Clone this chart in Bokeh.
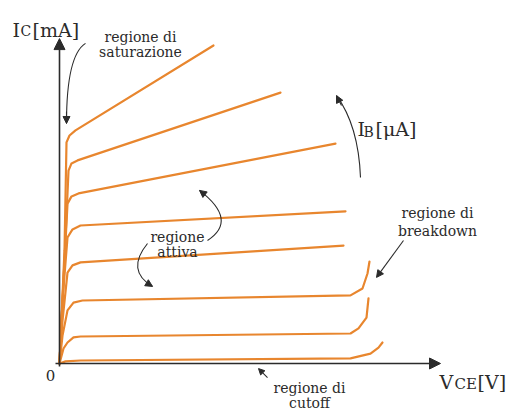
from bokeh.plotting import figure
from bokeh.models import Range1d, Arrow, NormalHead
from bokeh.embed import file_html
from bokeh.resources import INLINE
from bokeh.core.properties import value

# BJT output characteristics: V_CE [V] vs I_C [mA] (top curve first)
vce_1 = [0, 0.25, 0.35, 0.5, 0.8, 7.7]
ic_1 = [0, 3.77, 7.37, 7.6, 7.77, 10.6]

vce_2 = [0, 0.25, 0.45, 0.6, 0.9, 11.05]
ic_2 = [0, 3.43, 6.43, 6.67, 6.77, 9.03]

vce_3 = [0, 0.2, 0.4, 0.6, 0.95, 13.8]
ic_3 = [0, 2.77, 5.33, 5.57, 5.67, 7.33]

vce_4 = [0, 0.15, 0.4, 0.65, 1.05, 14.3]
ic_4 = [0, 2.1, 4.2, 4.47, 4.6, 5.07]

vce_5 = [0, 0.15, 0.4, 0.65, 1.05, 14.2]
ic_5 = [0, 1.43, 3.03, 3.27, 3.37, 3.93]

vce_6 = [0, 0.15, 0.4, 0.7, 1.15, 14.55, 15.15, 15.4, 15.5]
ic_6 = [0, 0.93, 1.77, 2.03, 2.1, 2.27, 2.5, 3.0, 3.4]

vce_7 = [0, 0.2, 0.4, 0.7, 1.05, 14.55, 14.95, 15.35, 15.45]
ic_7 = [0, 0.5, 0.7, 0.87, 0.9, 1.0, 1.17, 1.53, 2.17]

vce_8 = [0, 0.3, 1.05, 14.55, 15.55, 15.95, 16.15]
ic_8 = [0, 0.07, 0.1, 0.17, 0.33, 0.53, 0.7]

curves = [(vce_1, ic_1), (vce_2, ic_2), (vce_3, ic_3), (vce_4, ic_4),
          (vce_5, ic_5), (vce_6, ic_6), (vce_7, ic_7), (vce_8, ic_8)]

x_axis_label = ("V", "CE", "[V]")
y_axis_label = ("I", "C", "[mA]")
ib_label = ("I", "B", "[\u03bcA]")
region_saturation = ["regione di", "saturazione"]
region_active = ["regione", "attiva"]
region_breakdown = ["regione di", "breakdown"]
region_cutoff = ["regione di", "cutoff"]

CURVE = "#e8862e"
INK = "#2b2b2b"
FONT = value("DejaVu Serif")

p = figure(width=507, height=410, output_backend="svg", toolbar_location=None,
           x_range=Range1d(-2.95, 22.4), y_range=Range1d(-1.5667, 12.1),
           min_border=0, min_border_left=0, min_border_right=0,
           min_border_top=0, min_border_bottom=0)
p.axis.visible = False
p.grid.visible = False
p.outline_line_color = None
p.background_fill_color = "white"
p.border_fill_color = "white"

# axes as arrows
p.add_layout(Arrow(end=NormalHead(size=11, fill_color=INK, line_color=INK),
                   x_start=-0.2, y_start=0, x_end=19.05, y_end=0,
                   line_color=INK, line_width=1.6))
p.add_layout(Arrow(end=NormalHead(size=11, fill_color=INK, line_color=INK),
                   x_start=0, y_start=-0.1, x_end=0, y_end=10.83,
                   line_color=INK, line_width=1.6))

for xs, ys in curves:
    p.line(xs, ys, line_color=CURVE, line_width=2.2, line_join="round", line_cap="round")


def txt(x, y, s, size, align="left"):
    p.text(x=[x], y=[y], text=[s], text_font=FONT, text_font_size=f"{size}px",
           text_align=align, text_baseline="alphabetic", text_color=INK)


def curved_arrow(x0, y0, cx, cy, x1, y1, hx, hy):
    p.quadratic(x0=[x0], y0=[y0], cx=[cx], cy=[cy], x1=[x1], y1=[y1],
                line_color=INK, line_width=1.1)
    p.add_layout(Arrow(end=NormalHead(size=7, fill_color=INK, line_color=INK),
                       x_start=hx, y_start=hy, x_end=x1, y_end=y1,
                       line_color=INK, line_width=1.1))


# axis labels
txt(-2.35, 11.1, y_axis_label[0], 19)
txt(-1.95, 11.07, y_axis_label[1], 14)
txt(-1.35, 11.1, y_axis_label[2], 19)

txt(19.0, -0.633, x_axis_label[0], 19)
txt(19.75, -0.7, x_axis_label[1], 15)
txt(20.9, -0.633, x_axis_label[2], 19)

txt(14.9, 7.83, ib_label[0], 19)
txt(15.2, 7.73, ib_label[1], 14)
txt(15.8, 7.83, ib_label[2], 19)

txt(-0.45, -0.4, "0", 15, "center")

# region labels
txt(4.05, 10.87, region_saturation[0], 14, "center")
txt(4.05, 10.37, region_saturation[1], 14, "center")
txt(5.9, 4.2, region_active[0], 14, "center")
txt(5.9, 3.7, region_active[1], 14, "center")
txt(18.9, 5.0, region_breakdown[0], 14, "center")
txt(18.9, 4.43, region_breakdown[1], 14, "center")
txt(12.5, -0.833, region_cutoff[0], 14, "center")
txt(12.5, -1.333, region_cutoff[1], 14, "center")

# annotation arrows
curved_arrow(1.3, 10.67, 0.35, 10.27, 0.35, 8.0, 0.35, 8.4)        # saturazione
curved_arrow(15.05, 6.2, 14.95, 7.93, 13.85, 8.93, 14.1, 8.6)      # I_B
curved_arrow(7.4, 4.1, 8.95, 4.77, 7.0, 5.77, 7.29, 5.62)          # attiva (up)
curved_arrow(4.4, 4.0, 3.3, 3.1, 4.65, 2.57, 4.38, 2.68)           # attiva (down)
p.add_layout(Arrow(end=NormalHead(size=7, fill_color=INK, line_color=INK),
                   x_start=17.2, y_start=4.1, x_end=15.85, y_end=2.87,
                   line_color=INK, line_width=1.1))                  # breakdown
p.add_layout(Arrow(end=NormalHead(size=6, fill_color=INK, line_color=INK),
                   x_start=10.4, y_start=-0.47, x_end=9.95, y_end=-0.17,
                   line_color=INK, line_width=1.1))                  # cutoff

open("out.html", "w").write(file_html(p, INLINE))
